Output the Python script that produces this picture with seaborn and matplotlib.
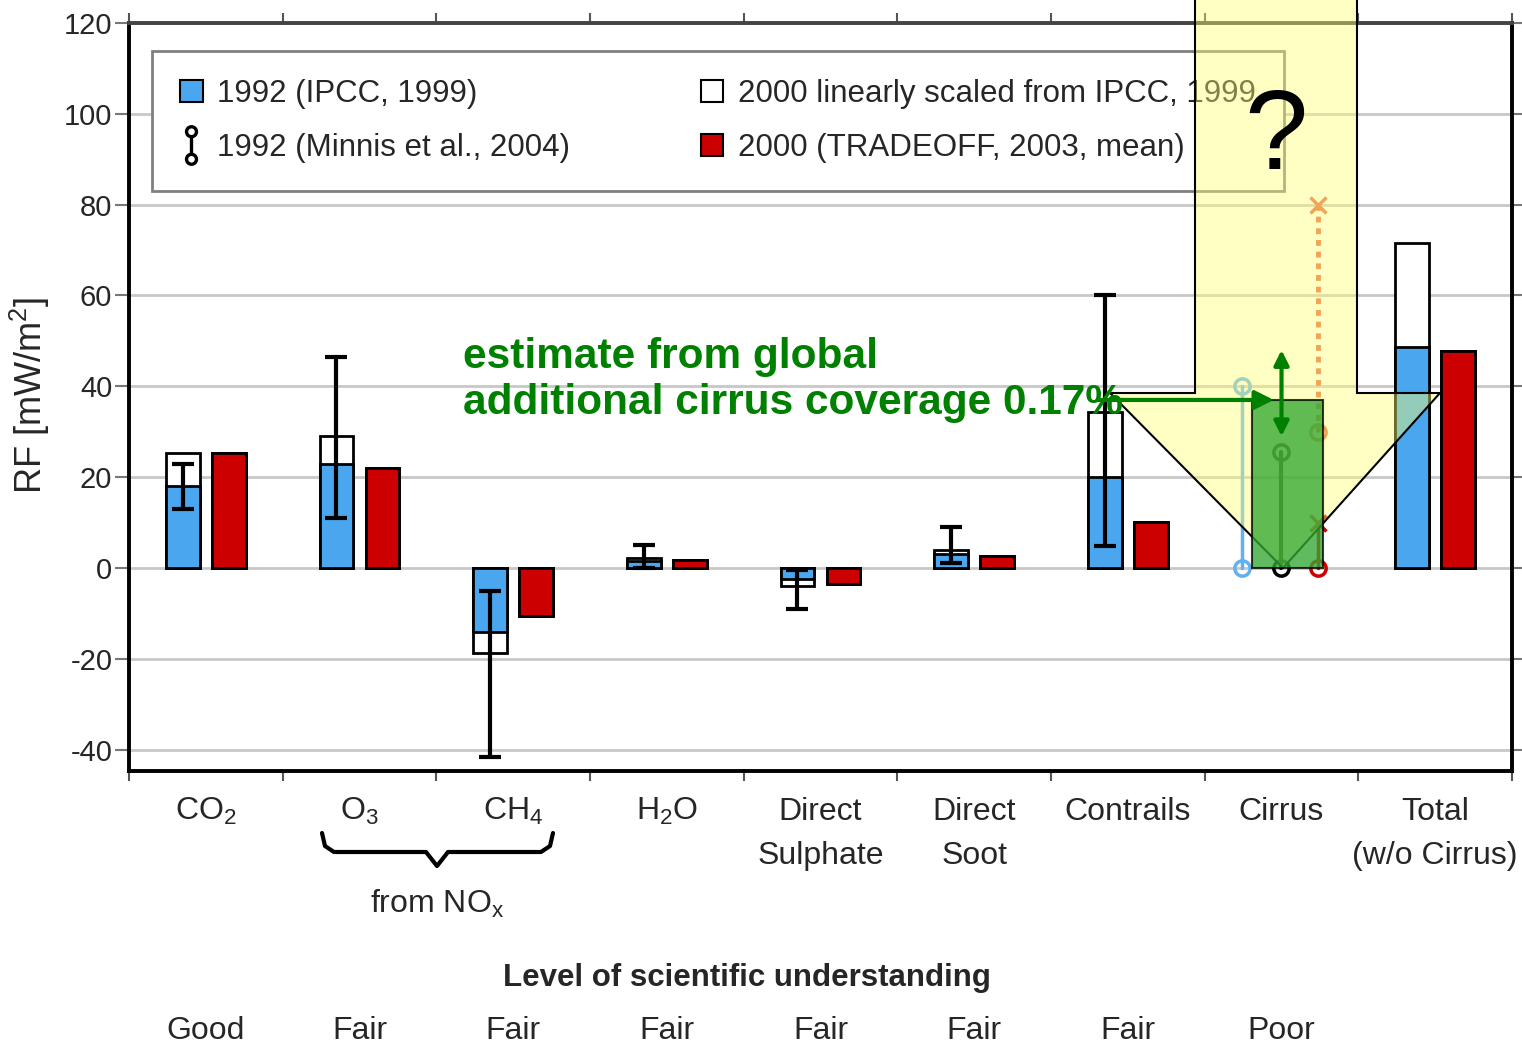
import numpy as np
import pandas as pd
import matplotlib
matplotlib.use("Agg")
import matplotlib.pyplot as plt
import seaborn as sns
from matplotlib.patches import Patch, Polygon, Rectangle
from matplotlib.lines import Line2D
from matplotlib.path import Path

# ---------------- data ----------------
categories = ["CO2", "O3", "CH4", "H2O", "Direct Sulphate", "Direct Soot",
              "Contrails", "Cirrus", "Total"]
category_labels = ["CO$_2$", "O$_3$", "CH$_4$", "H$_2$O", "Direct\nSulphate",
                   "Direct\nSoot", "Contrails", "Cirrus", "Total\n(w/o Cirrus)"]
understanding = ["Good", "Fair", "Fair", "Fair", "Fair", "Fair", "Fair", "Poor", ""]
rf_1992_ipcc = [18.0, 23.0, -14.0, 1.5, -2.5, 3.0, 20.0, np.nan, 48.7]
rf_2000_scaled = [25.3, 29.0, -18.7, 2.2, -4.0, 4.0, 34.4, np.nan, 71.5]
rf_2000_tradeoff = [25.3, 22.0, -10.6, 1.8, -3.6, 2.6, 10.1, np.nan, 47.8]
err_1992_low = [13.0, 11.0, -41.6, 0.0, -9.0, 1.0, 4.8, np.nan, np.nan]
err_1992_high = [23.0, 46.5, -5.0, 5.0, -0.5, 9.0, 60.0, np.nan, np.nan]
cirrus_ipcc_1992 = [0.0, 40.0]
cirrus_minnis_1992 = [0.0, 25.5]
cirrus_tradeoff_low = [0.0, 10.0]
cirrus_tradeoff_high = [30.0, 80.0]
cirrus_estimate = 37.0
cirrus_estimate_range = [29.0, 48.0]
yticks = [-40, -20, 0, 20, 40, 60, 80, 100, 120]

# ---------------- style ----------------
sns.set_style("white")
plt.rcParams["font.family"] = ["Liberation Sans", "DejaVu Sans"]
plt.rcParams["mathtext.default"] = "regular"

BLUE = "#4aa6ee"
RED = "#cc0000"
LBLUE = "#62b0f0"
ORANGE = "#ec6242"
GREEN = "#008000"

W, H = 1522, 1044
AX_L, AX_R, AX_T, AX_B = 129, 1512, 23, 771
fig = plt.figure(figsize=(W / 100, H / 100), dpi=100)
ax = fig.add_axes([AX_L / W, 1 - AX_B / H, (AX_R - AX_L) / W, (AX_B - AX_T) / H])

YMIN, YMAX = -44.7, 120.0


def px2data(px, py):
    xd = (px - AX_L) / (AX_R - AX_L) * 9 - 0.5
    yd = YMIN + (AX_B - py) / (AX_B - AX_T) * (YMAX - YMIN)
    return xd, yd


def ax_y(py):
    return (AX_B - py) / (AX_B - AX_T)


# ---------------- bars ----------------
n = len(categories)
df_back = pd.DataFrame({"category": categories * 2,
                        "series": ["A"] * n + ["B"] * n,
                        "rf": rf_2000_scaled + rf_2000_tradeoff})
df_front = pd.DataFrame({"category": categories * 2,
                         "series": ["A"] * n + ["B"] * n,
                         "rf": rf_1992_ipcc + rf_2000_tradeoff})
bar_kw = dict(x="category", y="rf", hue="series", order=categories,
              hue_order=["A", "B"], width=0.6, gap=0.27, edgecolor="black",
              linewidth=2, errorbar=None, legend=False, ax=ax, saturation=1)
sns.barplot(data=df_back, palette={"A": "white", "B": RED}, zorder=2, **bar_kw)
sns.barplot(data=df_front, palette={"A": BLUE, "B": RED}, zorder=2.1, **bar_kw)

# error bars on the 1992 bars
idx = np.arange(n)
xb = idx - 0.15
lo = np.array(err_1992_low)
hi = np.array(err_1992_high)
m = ~np.isnan(lo)
ax.errorbar(xb[m], (lo[m] + hi[m]) / 2, yerr=(hi[m] - lo[m]) / 2, fmt="none",
            ecolor="black", elinewidth=3, capsize=8, capthick=3, zorder=3)

# cirrus ranges
ci = categories.index("Cirrus")
ax.plot([ci - 0.26] * 2, cirrus_ipcc_1992, color=LBLUE, lw=2.5, marker="o",
        mfc="none", ms=11, mew=2.5, zorder=3)
ax.plot([ci] * 2, cirrus_minnis_1992, color="black", lw=3, marker="o",
        mfc="none", ms=11, mew=2.5, zorder=3)
ax.plot([ci + 0.24] * 2, cirrus_tradeoff_low, color=RED, lw=2.5, zorder=3)
ax.plot([ci + 0.24], [cirrus_tradeoff_low[0]], color=RED, marker="o", mfc="none",
        ms=11, mew=2.5, zorder=3)
ax.plot([ci + 0.24], [cirrus_tradeoff_low[1]], color=RED, marker="x", ms=11,
        mew=2.5, zorder=3)
ax.plot([ci + 0.24] * 2, cirrus_tradeoff_high, color=ORANGE, lw=3.5,
        linestyle=(0, (1.2, 1.2)), zorder=3)
ax.plot([ci + 0.24], [cirrus_tradeoff_high[0]], color=ORANGE, marker="o",
        mfc="none", ms=11, mew=2.5, zorder=3)
ax.plot([ci + 0.24], [cirrus_tradeoff_high[1]], color=ORANGE, marker="x",
        ms=11, mew=2.5, zorder=3)

# ---------------- axes styling ----------------
ax.set_xlim(-0.5, 8.5)
ax.set_ylim(YMIN, YMAX)
ax.set_yticks(yticks)
ax.set_yticklabels([str(v) for v in yticks], fontsize=21)
ax.set_xticks(np.arange(-0.5, 9.0, 1.0))
ax.set_xticklabels([])
ax.set_xlabel("")
ax.yaxis.grid(True, color="#c8c8c8", lw=2)
ax.xaxis.grid(False)
ax.set_axisbelow(True)
for s in ax.spines.values():
    s.set_visible(True)
    s.set_color("black")
    s.set_linewidth(2.8)
ax.spines["top"].set_color("#444444")
ax.tick_params(axis="y", which="major", left=True, right=True, direction="out",
               length=10, width=1.5, color="#777777", pad=2)
ax.tick_params(axis="x", which="major", bottom=True, top=True, direction="out",
               length=7, width=1.5, color="#555555")

ax.set_ylabel("RF [mW/m$^2$]", fontsize=26)
ax.yaxis.set_label_coords((52 - AX_L) / (AX_R - AX_L), ax_y(395))

# category labels (one text per line)
xt = ax.get_xaxis_transform()
for i, lab in enumerate(category_labels):
    for k, line in enumerate(lab.split("\n")):
        ax.text(i, ax_y(820 + 44 * k), line, transform=xt, ha="center",
                va="baseline", fontsize=23, clip_on=False)
for i, lab in enumerate(understanding):
    if lab:
        ax.text(i, ax_y(1039), lab, transform=xt, ha="center", va="baseline",
                fontsize=23, clip_on=False)
ax.text(px2data(437, 0)[0], ax_y(913), "from NO$_x$", transform=xt, ha="center",
        va="baseline", fontsize=23, clip_on=False)
ax.text(px2data(747, 0)[0], ax_y(986), "Level of scientific understanding",
        transform=xt, ha="center", va="baseline", fontsize=22.5,
        fontweight="bold", clip_on=False)

# brace under O3 / CH4
brace_px = [(322, 833), (325, 846), (334, 852), (426, 852), (437, 866),
            (448, 852), (541, 852), (550, 846), (553, 833)]
ax.plot([px2data(p[0], 0)[0] for p in brace_px], [ax_y(p[1]) for p in brace_px],
        transform=xt, color="black", lw=3, clip_on=False, solid_joinstyle="round")

# ---------------- legend ----------------
cpath = Path.make_compound_path(
    Path.circle((0, 0.72), 0.26),
    Path([(0, 0.46), (0, -0.46)], [Path.MOVETO, Path.LINETO]),
    Path.circle((0, -0.72), 0.26))
handles = [
    Patch(facecolor=BLUE, edgecolor="black", lw=1.5),
    Line2D([], [], ls="none", marker=cpath, ms=27, mfc="none", mec="black", mew=2.4),
    Patch(facecolor="white", edgecolor="black", lw=1.5),
    Patch(facecolor=RED, edgecolor="black", lw=1.5),
]
labels = ["1992 (IPCC, 1999)", "1992 (Minnis et al., 2004)",
          "2000 linearly scaled from IPCC, 1999", "2000 (TRADEOFF, 2003, mean)"]
leg = ax.legend(handles, labels, ncol=2, loc="upper left",
                bbox_to_anchor=((152 - AX_L) / (AX_R - AX_L), ax_y(51)),
                borderaxespad=0, fontsize=22.5, handlelength=0.72,
                handleheight=0.72, handletextpad=0.45, columnspacing=4.2,
                borderpad=0.9, labelspacing=0.76, fancybox=False, framealpha=1,
                edgecolor="#808080")
leg.get_frame().set_linewidth(2)
leg.set_zorder(5)

# ---------------- annotations ----------------
arrow_px = [(1195, -5), (1357, -5), (1357, 393), (1440, 393), (1283, 568),
            (1110, 393), (1195, 393)]
ax.add_patch(Polygon([px2data(*p) for p in arrow_px], closed=True,
                     facecolor="#ffff70", alpha=0.42, edgecolor="none",
                     zorder=6, clip_on=False))
ax.add_patch(Polygon([px2data(*p) for p in arrow_px], closed=True,
                     facecolor="none", edgecolor="black", lw=1.5,
                     zorder=6.1, clip_on=False))
ax.text(*px2data(1276, 140), "?", fontsize=82, ha="center", va="center",
        color="black", zorder=9)

ax.add_patch(Rectangle((ci - 0.19, 0), 0.46, cirrus_estimate,
                       facecolor="#33a833", alpha=0.78, edgecolor="black",
                       lw=1.5, zorder=7))
ax.annotate("", xy=(ci - 0.05, cirrus_estimate),
            xytext=(px2data(1098, 0)[0], cirrus_estimate),
            arrowprops=dict(arrowstyle="-|>", color=GREEN, lw=3,
                            mutation_scale=28, shrinkA=0, shrinkB=0), zorder=8)
ax.annotate("", xy=(ci, cirrus_estimate_range[1]),
            xytext=(ci, cirrus_estimate_range[0]),
            arrowprops=dict(arrowstyle="<|-|>", color=GREEN, lw=3,
                            mutation_scale=22, shrinkA=0, shrinkB=0), zorder=8)
ax.text(*px2data(463, 380), "estimate from global\nadditional cirrus coverage 0.17%",
        color=GREEN, fontsize=30.5, fontweight="bold", ha="left", va="center",
        linespacing=1.2, zorder=8)

fig.savefig("out.png", dpi=100)
